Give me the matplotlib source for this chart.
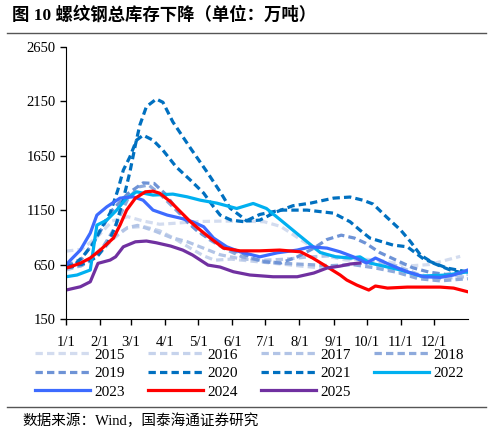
import matplotlib
matplotlib.use('Agg')
import matplotlib.pyplot as plt
from matplotlib.lines import Line2D

# 每年的数据：横轴为一年中的第几天，纵轴为库存（万吨）
d2015 = [0, 14, 28, 42, 56, 70, 85, 100, 120, 140, 160, 180, 195, 210, 225, 240, 255, 270, 285, 300, 315, 330, 345, 358]
v2015 = [773, 790, 900, 1050, 1090, 1050, 1020, 1030, 1045, 1049, 1049, 1043, 1000, 900, 800, 720, 690, 700, 690, 660, 640, 650, 690, 725]

d2016 = [0, 14, 28, 42, 56, 70, 85, 100, 113, 125, 135, 150, 170, 190, 210, 230, 250, 270, 290, 310, 330, 350, 365]
v2016 = [620, 640, 720, 880, 990, 1000, 960, 880, 800, 730, 690, 700, 680, 660, 640, 620, 640, 660, 620, 560, 520, 540, 560]

d2017 = [0, 14, 28, 42, 56, 65, 80, 95, 110, 125, 140, 160, 180, 200, 220, 240, 260, 280, 300, 320, 340, 365]
v2017 = [600, 640, 760, 900, 990, 1010, 960, 900, 860, 800, 740, 700, 690, 700, 720, 730, 700, 680, 640, 560, 520, 540]

d2018 = [0, 14, 28, 42, 56, 66, 75, 85, 100, 115, 130, 145, 160, 180, 200, 220, 240, 260, 280, 300, 320, 340, 365]
v2018 = [620, 640, 720, 950, 1250, 1363, 1380, 1300, 1150, 1000, 880, 790, 720, 680, 660, 650, 640, 650, 620, 580, 520, 500, 520]

d2019 = [0, 14, 28, 42, 56, 70, 80, 90, 100, 110, 120, 130, 140, 150, 160, 170, 180, 195, 210, 225, 237, 250, 262, 272, 285, 300, 315, 330, 345, 365]
v2019 = [640, 700, 900, 1150, 1300, 1400, 1395, 1300, 1165, 1043, 951, 889, 829, 783, 752, 706, 675, 664, 720, 800, 880, 920, 893, 847, 760, 690, 620, 580, 560, 580]

d2020 = [0, 14, 28, 38, 45, 52, 58, 63, 67, 73, 82, 88, 97, 113, 128, 140, 149, 158, 164, 176, 190, 206, 222, 243, 258, 270, 279, 291, 304, 313, 322, 334, 349, 361]
v2020 = [640, 650, 720, 850, 1000, 1250, 1500, 1750, 1930, 2100, 2170, 2140, 1960, 1719, 1501, 1318, 1168, 1100, 1050, 1058, 1130, 1190, 1214, 1260, 1270, 1240, 1205, 1088, 966, 859, 737, 661, 600, 572]

d2021 = [0, 6, 15, 25, 31, 40, 47, 52, 58, 64, 70, 79, 88, 100, 113, 125, 134, 140, 150, 162, 176, 195, 219, 243, 258, 267, 276, 297, 310, 325, 346, 364]
v2021 = [620, 630, 721, 847, 966, 1122, 1333, 1517, 1639, 1792, 1838, 1792, 1700, 1547, 1425, 1306, 1180, 1104, 1058, 1043, 1110, 1150, 1150, 1122, 1043, 966, 893, 829, 813, 700, 618, 584]

d2022 = [0, 10, 22, 28, 37, 46, 55, 64, 79, 97, 110, 122, 137, 155, 170, 182, 195, 213, 231, 245, 259, 267, 276, 304, 322, 346, 365]
v2022 = [538, 554, 600, 1012, 1058, 1150, 1260, 1318, 1288, 1297, 1272, 1241, 1214, 1165, 1211, 1165, 1058, 908, 760, 721, 710, 721, 664, 600, 544, 554, 584]

d2023 = [0, 4, 13, 22, 28, 37, 49, 61, 70, 79, 92, 104, 115, 125, 134, 146, 158, 176, 192, 210, 222, 237, 249, 261, 273, 281, 295, 310, 325, 340, 352, 365]
v2023 = [645, 691, 783, 939, 1104, 1180, 1260, 1272, 1241, 1150, 1104, 1076, 1043, 997, 893, 813, 767, 721, 758, 783, 813, 801, 767, 721, 664, 710, 645, 584, 538, 532, 554, 600]

d2024 = [0, 4, 13, 22, 31, 43, 49, 55, 63, 72, 79, 85, 95, 104, 113, 122, 131, 143, 158, 176, 194, 213, 224, 237, 249, 255, 264, 275, 281, 292, 310, 340, 352, 365]
v2024 = [618, 630, 663, 710, 783, 893, 1012, 1150, 1260, 1318, 1324, 1305, 1226, 1134, 1043, 966, 893, 801, 776, 776, 783, 767, 710, 630, 554, 508, 462, 416, 453, 434, 443, 443, 434, 400]

d2025 = [0, 13, 22, 29, 40, 45, 52, 63, 73, 82, 95, 106, 115, 122, 129, 140, 152, 167, 188, 210, 225, 237, 249, 258, 267]
v2025 = [416, 446, 492, 661, 691, 721, 813, 859, 866, 850, 820, 783, 737, 691, 645, 627, 584, 554, 538, 538, 572, 618, 636, 655, 664]

month_days = [0, 31, 59, 90, 120, 151, 181, 212, 243, 273, 304, 334]
month_labels = ['1/1', '2/1', '3/1', '4/1', '5/1', '6/1', '7/1', '8/1', '9/1', '10/1', '11/1', '12/1']
y_ticks = [150, 650, 1150, 1650, 2150, 2650]

series = [
    ('2015', d2015, v2015, '#d3dcef', True),
    ('2016', d2016, v2016, '#c6d3ec', True),
    ('2017', d2017, v2017, '#b2c4e6', True),
    ('2018', d2018, v2018, '#8eaadc', True),
    ('2019', d2019, v2019, '#6e93d6', True),
    ('2020', d2020, v2020, '#0070c0', True),
    ('2021', d2021, v2021, '#0070c0', True),
    ('2022', d2022, v2022, '#00b0f0', False),
    ('2023', d2023, v2023, '#3d6bff', False),
    ('2024', d2024, v2024, '#ff0000', False),
    ('2025', d2025, v2025, '#7030a0', False),
]

serif = ['Liberation Serif', 'Noto Sans CJK SC']
plt.rcParams['font.family'] = serif

fig = plt.figure(figsize=(4.93, 4.37), dpi=100)
ax = fig.add_axes([0.134, 0.270, 0.815, 0.623])

handles = {}
for name, d, v, c, dashed in series:
    if dashed:
        line, = ax.plot(d, v, color=c, lw=2.3, dashes=(2.3, 1.3), label=name)
    else:
        line, = ax.plot(d, v, color=c, lw=2.3, label=name)
    handles[name] = line

ax.set_xlim(0, 365)
ax.set_ylim(150, 2650)
ax.set_xticks(month_days)
ax.set_xticklabels(month_labels)
ax.set_yticks(y_ticks)
ax.tick_params(labelsize=10.5, length=4, width=1, direction='out')
ax.tick_params(axis='x', pad=8)
ax.spines['top'].set_visible(False)
ax.spines['right'].set_visible(False)

# 图例按行排列：legend 按列填充，所以先调好顺序
order = ['2015', '2019', '2023', '2016', '2020', '2024', '2017', '2021', '2025', '2018', '2022']
fig.legend(handles=[handles[k] for k in order], loc='upper left', bbox_to_anchor=(0.058, 0.218), ncol=4,
           frameon=False, fontsize=11, handlelength=3.6, handletextpad=0.3,
           columnspacing=1.5, labelspacing=0.32, borderaxespad=0)

# 标题与来源
fig.text(0.025, 0.965, '图 10 螺纹钢总库存下降（单位：万吨）', fontsize=12.5, fontweight='bold',
         family=serif, va='center', ha='left')
fig.add_artist(Line2D([0.015, 0.985], [0.925, 0.925], color='#555555', lw=1))
fig.add_artist(Line2D([0.015, 0.985], [0.068, 0.068], color='#555555', lw=1))
fig.text(0.045, 0.038, '数据来源：Wind，国泰海通证券研究', fontsize=10.5, family=serif,
         va='center', ha='left')

fig.savefig('out.png', dpi=100)
